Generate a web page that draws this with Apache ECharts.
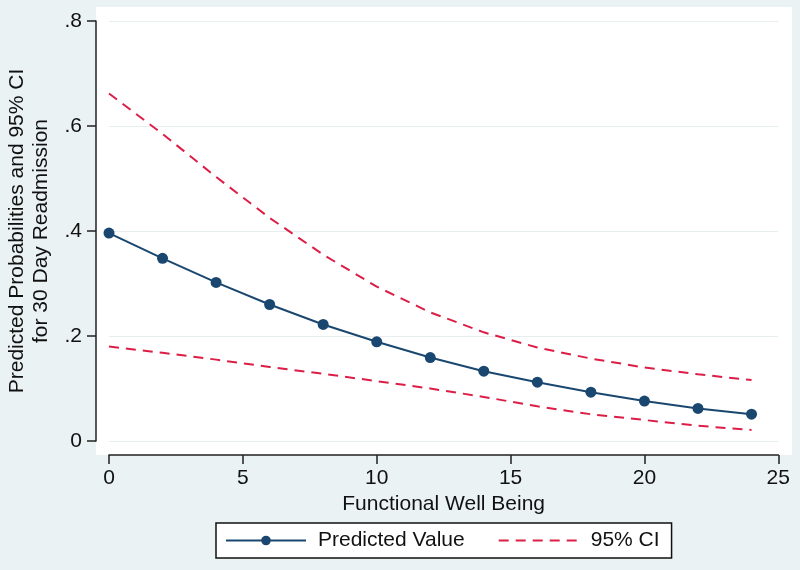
<!DOCTYPE html>
<html>
<head>
<meta charset="utf-8">
<script src="https://cdn.jsdelivr.net/npm/echarts@6/dist/echarts.min.js"></script>
<style>
	html, body {margin: 0; padding: 0; background: #eaf2f3;}
	#chart {width: 800px; height: 570px;}
</style>
</head>
<body>
<div id="chart"></div>
<script>
let wellBeing = [0, 2, 4, 6, 8, 10, 12, 14, 16, 18, 20, 22, 24];
let predicted = [0.396, 0.348, 0.302, 0.260, 0.222, 0.189, 0.159, 0.133, 0.112, 0.093, 0.076, 0.062, 0.051];
let upperCI = [0.662, 0.585, 0.503, 0.425, 0.355, 0.294, 0.245, 0.207, 0.178, 0.157, 0.140, 0.127, 0.116];
let lowerCI = [0.180, 0.168, 0.155, 0.141, 0.128, 0.114, 0.100, 0.084, 0.066, 0.051, 0.040, 0.029, 0.021];

let font = 'Liberation Sans, Arial, sans-serif';
let navy = '#1a476f';
let red = '#dc1e46';

let pairs = (ys) => wellBeing.map((x, i) => [x, ys[i]]);

let chart = echarts.init(document.getElementById('chart'));
chart.setOption({
	backgroundColor: '#eaf2f3',
	animation: false,
	textStyle: {fontFamily: font},
	graphic: [{
		type: 'rect',
		z: -10,
		shape: {x: 96, y: 7, width: 696, height: 448},
		style: {fill: '#ffffff'},
	}],
	grid: {
		left: 109,
		right: 21.7,
		top: 21,
		bottom: 129,
		containLabel: false,
		outerBoundsMode: 'none',
	},
	xAxis: {
		type: 'value',
		min: 0,
		max: 25,
		interval: 5,
		offset: 14,
		name: 'Functional Well Being',
		nameLocation: 'middle',
		nameGap: 32,
		nameTextStyle: {fontSize: 21, color: '#111', fontFamily: font},
		axisLine: {show: true, onZero: false, lineStyle: {color: '#222', width: 1.5}},
		axisTick: {show: true, length: 9, lineStyle: {color: '#222', width: 1.5}},
		axisLabel: {fontSize: 21, color: '#111', margin: 13, fontFamily: font},
		splitLine: {show: false},
	},
	yAxis: {
		type: 'value',
		min: 0,
		max: 0.8,
		interval: 0.2,
		offset: 13,
		name: 'Predicted Probabilities and 95% CI\nfor 30 Day Readmission',
		nameLocation: 'middle',
		nameGap: 34,
		nameTextStyle: {fontSize: 21, color: '#111', lineHeight: 24, fontFamily: font},
		axisLine: {show: true, onZero: false, lineStyle: {color: '#222', width: 1.5}},
		axisTick: {show: true, length: 9, lineStyle: {color: '#222', width: 1.5}},
		axisLabel: {
			fontSize: 21,
			color: '#111',
			margin: 14,
			fontFamily: font,
			formatter: (v) => (v === 0 ? '0' : v.toFixed(1).replace(/^0/, '')),
		},
		splitLine: {show: true, lineStyle: {color: '#e6eef0', width: 1}},
	},
	legend: {
		left: 216,
		top: 523,
		itemWidth: 80,
		itemHeight: 12,
		itemGap: 33,
		padding: [7, 12, 7, 9],
		backgroundColor: '#ffffff',
		borderColor: '#111',
		borderWidth: 1.5,
		borderRadius: 0,
		textStyle: {fontSize: 21, color: '#111', fontFamily: font, padding: [0, 0, 0, 7]},
		data: [
			'Predicted Value',
			{name: '95% CI', itemStyle: {opacity: 0}},
		],
	},
	series: [
		{
			name: '95% CI',
			type: 'line',
			data: pairs(upperCI),
			showSymbol: false,
			symbol: 'none',
			lineStyle: {color: red, width: 2, type: [10, 7]},
			itemStyle: {color: red},
			z: 2,
		},
		{
			name: '95% CI',
			type: 'line',
			data: pairs(lowerCI),
			showSymbol: false,
			symbol: 'none',
			lineStyle: {color: red, width: 2, type: [10, 7]},
			itemStyle: {color: red},
			z: 2,
		},
		{
			name: 'Predicted Value',
			type: 'line',
			data: pairs(predicted),
			symbol: 'circle',
			symbolSize: 11,
			lineStyle: {color: navy, width: 2},
			itemStyle: {color: navy},
			z: 3,
		},
	],
});
</script>
</body>
</html>
